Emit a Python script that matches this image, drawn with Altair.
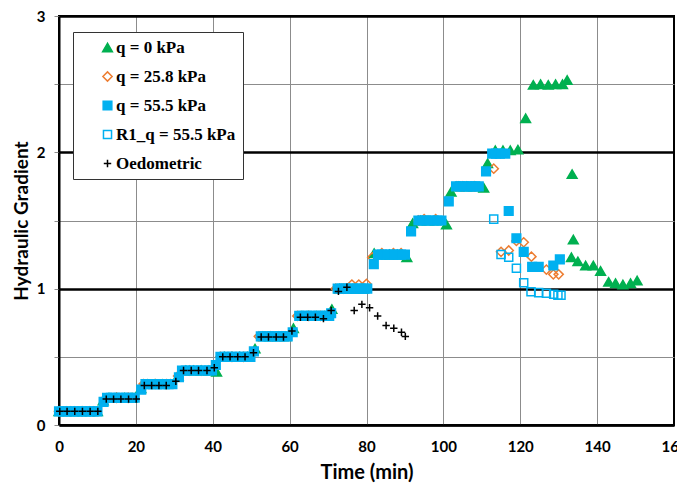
import altair as alt
import pandas as pd

series_names = ["q = 0 kPa", "q = 25.8 kPa", "q = 55.5 kPa", "R1_q = 55.5 kPa", "Oedometric"]
series_fill = ["#00B050", "transparent", "#00B0F0", "transparent", "transparent"]
series_stroke = ["#00B050", "#ED7D31", "#00B0F0", "#00B0F0", "black"]
series_shape = ["triangle-up", "diamond", "square", "square", "M-1,0L1,0M0,-1L0,1"]
series_size = [95, 55, 100, 80, 60]

q0_time = [0, 2, 4, 6, 8, 10, 11.5, 13, 15, 17, 19, 21.3, 23, 25, 27, 29,
           31, 33, 35, 37, 39, 41, 43, 45, 47, 49, 51, 53, 55, 57, 59, 61,
           63, 65, 67, 69, 71, 73, 75, 77, 79, 82, 84, 86, 88, 90.5,
           92, 94, 96, 98, 100.8, 102, 104, 106, 108, 110.5,
           111.5, 113.5, 115.5, 117.4, 119.4, 121.4, 123.4, 125.3, 127.3, 129.2, 131, 132.2,
           133.5, 133.8, 133.3, 135, 137, 139, 140.9, 143, 144.8, 146.7, 148.7, 150.4]
q0_grad = [0.1, 0.1, 0.1, 0.1, 0.1, 0.1, 0.18, 0.2, 0.2, 0.2, 0.2, 0.27, 0.3, 0.3, 0.3, 0.3,
           0.36, 0.4, 0.4, 0.4, 0.4, 0.39, 0.5, 0.5, 0.5, 0.5, 0.56, 0.65, 0.65, 0.65, 0.65, 0.71,
           0.8, 0.8, 0.8, 0.8, 0.85, 1.0, 1.0, 1.0, 1.0, 1.26, 1.25, 1.25, 1.25, 1.23,
           1.48, 1.5, 1.5, 1.5, 1.47, 1.71, 1.75, 1.75, 1.75, 1.74,
           1.92, 2.015, 2.015, 2.015, 2.02, 2.25, 2.495, 2.5, 2.495, 2.5, 2.5, 2.53,
           1.84, 1.36, 1.23, 1.2, 1.17, 1.17, 1.13, 1.05, 1.04, 1.03, 1.04, 1.06]

q25_time = [0, 3, 6, 9, 12, 15, 18, 22, 25, 28, 31, 34, 37, 42, 45, 48, 52, 55, 58,
            62, 65, 68, 72, 74, 76.2, 78, 80, 81.5, 84, 87, 89, 93.5, 95, 98, 103.5, 105, 108,
            113.1, 115, 117, 119, 120.9, 122.9, 126.8, 128.6, 130]
q25_grad = [0.1, 0.1, 0.1, 0.1, 0.19, 0.2, 0.2, 0.3, 0.3, 0.3, 0.36, 0.4, 0.4, 0.5, 0.5, 0.5, 0.65, 0.65, 0.65,
            0.8, 0.8, 0.8, 1.0, 1.0, 1.03, 1.03, 1.035, 1.23, 1.26, 1.26, 1.26, 1.5, 1.51, 1.51, 1.75, 1.75, 1.75,
            1.88, 1.27, 1.28, 1.35, 1.34, 1.235, 1.14, 1.105, 1.105]

q55_time = [0, 1, 2, 3, 4, 5, 6, 7, 8, 9, 10,
            11.6, 12.5, 13.5, 14.5, 15.5, 16.5, 17.5, 18.5, 19.7,
            21.4, 22.5, 23.5, 24.5, 25.5, 26.5, 27.5, 28.5, 29.5,
            31.2, 32, 33, 34, 35, 36, 37, 38, 39, 39.8,
            40.8, 42, 43, 44, 45, 46, 47, 48, 49, 49.8,
            50.7, 52.5, 53.5, 54.5, 55.5, 56.5, 57.5, 58.5, 59.5,
            60.8, 62.5, 63.5, 64.5, 65.5, 66.5, 67.5, 68.5, 69.5, 70.3,
            70.8, 72.5, 73.5, 74.5, 75.5, 76.5, 77.5, 78.5, 79.5, 80.2,
            81.9, 83, 84, 85, 86, 87, 88, 89, 90,
            91.6, 93.5, 94.5, 95.5, 96.5, 97.5, 98.5, 99.5,
            101.4, 103.3, 104.3, 105.3, 106.3, 107.3, 108.3, 109.2,
            111.1, 112.7, 113.7, 114.7, 116.1,
            117, 119, 120.9, 123.1, 124.8, 128.6, 130.3]
q55_grad = [0.1, 0.1, 0.1, 0.1, 0.1, 0.1, 0.1, 0.1, 0.1, 0.1, 0.1,
            0.17, 0.2, 0.2, 0.2, 0.2, 0.2, 0.2, 0.2, 0.2,
            0.26, 0.3, 0.3, 0.3, 0.3, 0.3, 0.3, 0.3, 0.3,
            0.35, 0.4, 0.4, 0.4, 0.4, 0.4, 0.4, 0.4, 0.4, 0.4,
            0.44, 0.5, 0.5, 0.5, 0.5, 0.5, 0.5, 0.5, 0.5, 0.5,
            0.54, 0.65, 0.65, 0.65, 0.65, 0.65, 0.65, 0.65, 0.65,
            0.68, 0.8, 0.8, 0.8, 0.8, 0.8, 0.8, 0.8, 0.8, 0.8,
            0.82, 1.0, 1.0, 1.0, 1.0, 1.0, 1.0, 1.0, 1.0, 1.0,
            1.18, 1.25, 1.25, 1.25, 1.25, 1.25, 1.25, 1.25, 1.25,
            1.42, 1.5, 1.5, 1.5, 1.5, 1.5, 1.5, 1.5,
            1.64, 1.75, 1.75, 1.75, 1.75, 1.75, 1.75, 1.75,
            1.86, 1.99, 1.99, 1.99, 1.99,
            1.57, 1.37, 1.27, 1.16, 1.16, 1.17, 1.215]

r1_time = [113.1, 115, 117, 119, 120.9, 122.8, 124.8, 126.8, 128.7, 129.8, 130.6]
r1_grad = [1.51, 1.25, 1.23, 1.15, 1.044, 0.978, 0.971, 0.966, 0.959, 0.952, 0.952]

oed_time = [0.2, 2.1, 4.1, 6.1, 8.1, 10.1,
            12.3, 14.2, 16.1, 18.1, 20.1,
            22.2, 24.1, 26, 27.9, 30.4,
            32.4, 34.4, 36.3, 38.5, 40.4,
            42.6, 44.5, 46.5, 48.4, 50.6,
            52.6, 54.5, 56.5, 58.4, 60.6,
            62.8, 64.7, 66.7, 68.8, 70.8,
            72.7, 74.9, 76.8, 78.8, 80.8, 82.9, 85.1, 87.1, 89.1, 90.1]
oed_grad = [0.1, 0.1, 0.1, 0.1, 0.1, 0.1,
            0.19, 0.19, 0.19, 0.19, 0.19,
            0.29, 0.29, 0.29, 0.29, 0.32,
            0.4, 0.4, 0.4, 0.4, 0.42,
            0.5, 0.5, 0.5, 0.5, 0.53,
            0.645, 0.645, 0.645, 0.645, 0.69,
            0.79, 0.79, 0.79, 0.78, 0.84,
            0.98, 1.01, 0.84, 0.885, 0.86, 0.80, 0.73, 0.71, 0.68, 0.65]

x_ticks = [0, 20, 40, 60, 80, 100, 120, 140, 160]
y_ticks = [0, 0.5, 1, 1.5, 2, 2.5, 3]

frames = []
for name, t, g in [(series_names[0], q0_time, q0_grad),
                   (series_names[1], q25_time, q25_grad),
                   (series_names[2], q55_time, q55_grad),
                   (series_names[3], r1_time, r1_grad),
                   (series_names[4], oed_time, oed_grad)]:
    frames.append(pd.DataFrame({"time": t, "grad": g, "series": name}))
df = pd.concat(frames, ignore_index=True)

legend = alt.Legend(
    title=None,
    orient="none",
    legendX=14,
    legendY=16,
    padding=7,
    symbolOffset=19,
    labelOffset=0,
    rowPadding=11,
    strokeColor="#333333",
    fillColor="white",
    labelFont="Liberation Serif",
    labelFontWeight="bold",
    labelFontSize=17,
    labelColor="black",
    labelLimit=400,
    symbolStrokeWidth=1.5,
    labelExpr="datum.label + '          '",
)

chart = alt.Chart(df).mark_point(strokeWidth=1.5, opacity=1).encode(
    x=alt.X("time:Q", scale=alt.Scale(domain=[0, 160], nice=False),
            axis=alt.Axis(values=x_ticks, title="Time (min)", format="d",
                          labelFlush=False, labelOverlap=False,
                          gridColor={"condition": {"test": "datum.value == 0 || datum.value == 160", "value": "black"}, "value": "#8c8c8c"},
                          gridWidth=1, ticks=False, labelPadding=14, titlePadding=8,
                          titleFontSize=20,
                          domainColor="black", domainWidth=2)),
    y=alt.Y("grad:Q", scale=alt.Scale(domain=[0, 3], nice=False),
            axis=alt.Axis(values=y_ticks, title="Hydraulic Gradient",
                          labelFlush=False, labelOverlap=False,
                          labelExpr="datum.value % 1 == 0 ? format(datum.value, 'd') : ''",
                          gridColor={"condition": {"test": "datum.value % 1 == 0", "value": "black"}, "value": "#8c8c8c"},
                          gridWidth={"condition": {"test": "datum.value % 1 == 0", "value": 2.5}, "value": 1},
                          tickColor="#8c8c8c", tickSize=5, labelPadding=9, titlePadding=5,
                          domainColor="black", domainWidth=2)),
    shape=alt.Shape("series:N", scale=alt.Scale(domain=series_names, range=series_shape), legend=legend),
    fill=alt.Fill("series:N", scale=alt.Scale(domain=series_names, range=series_fill), legend=legend),
    stroke=alt.Stroke("series:N", scale=alt.Scale(domain=series_names, range=series_stroke), legend=legend),
    size=alt.Size("series:N", scale=alt.Scale(domain=series_names, range=series_size), legend=legend),
).properties(
    width=615, height=409,
    autosize=alt.AutoSizeParams(type="none"),
    padding={"left": 51, "top": 8, "right": 3, "bottom": 60},
).configure_view(
    stroke="black", strokeWidth=2
).configure_axis(
    labelFont="Lato", labelFontWeight="bold", labelFontSize=15, labelColor="black",
    titleFont="Lato", titleFontWeight="bold", titleFontSize=19, titleColor="black",
)

chart.save("out.html", embed_options={"renderer": "svg", "actions": False})
